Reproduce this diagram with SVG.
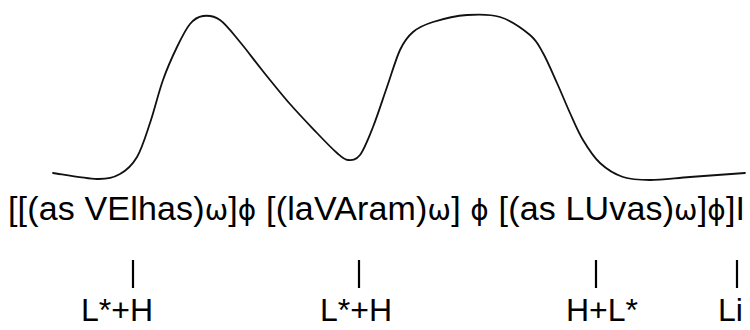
<svg xmlns="http://www.w3.org/2000/svg" width="750" height="330" viewBox="0 0 750 330">
<style>
.t{font-family:"Liberation Sans",Arial,sans-serif;fill:#000}
.main{font-size:34px}
.g{font-family:"DejaVu Sans","Liberation Sans",sans-serif;font-size:28px}
.lab{font-size:32px}
.bar{stroke:#000;stroke-width:2.2;fill:none}
.curve{stroke:#111;stroke-width:1.8;fill:none;stroke-linecap:round;stroke-linejoin:round}
</style>
<rect width="750" height="330" fill="#fff"/>
<g id="contour">
<path class="curve" d="M53,173 C60.3,174 85.8,178.8 97,179 C108.2,179.2 113.3,177.7 120,174 C126.7,170.3 132,165.5 137,157 C142,148.5 145.7,135.8 150,123 C154.3,110.2 158.5,92.7 163,80 C167.5,67.3 172.5,56.3 177,47 C181.5,37.7 185.7,29.2 190,24 C194.3,18.8 198,16.7 203,16 C208,15.3 213.8,15.7 220,20 C226.2,24.3 233,33.7 240,42 C247,50.3 253.7,59.7 262,70 C270.3,80.3 280.8,93.5 290,104 C299.2,114.5 309.2,124.8 317,133 C324.8,141.2 331.8,148.5 337,153 C342.2,157.5 344.2,159.7 348,160 C351.8,160.3 355.8,160.5 360,155 C364.2,149.5 368.5,138.3 373,127 C377.5,115.7 382.5,99.8 387,87 C391.5,74.2 395.7,59.2 400,50 C404.3,40.8 407.5,36.7 413,32 C418.5,27.3 424,24.8 433,22 C442,19.2 455.8,15.8 467,15 C478.2,14.2 489.5,13.7 500,17 C510.5,20.3 522.8,29 530,35 C537.2,41 538.5,45 543,53 C547.5,61 552.5,73 557,83 C561.5,93 565.7,103.5 570,113 C574.3,122.5 578,131.7 583,140 C588,148.3 593.3,156.8 600,163 C606.7,169.2 614.7,174.2 623,177 C631.3,179.8 638.8,180 650,180 C661.2,180 674.2,178.2 690,177 C705.8,175.8 735.8,173.7 745,173"/>
</g>
<g id="phrasing">
<text class="t main" x="8" y="220" textLength="737" lengthAdjust="spacing">[[(as VElhas)<tspan class="g">ω</tspan>]<tspan class="g">ϕ</tspan> [(laVAram)<tspan class="g">ω</tspan>] <tspan class="g">ϕ</tspan> [(as LUvas)<tspan class="g">ω</tspan>]<tspan class="g">ϕ</tspan>]I</text>
</g>
<g id="connectors">
<line class="bar" x1="133" y1="260" x2="133" y2="288"/>
<line class="bar" x1="359" y1="260" x2="359" y2="288"/>
<line class="bar" x1="596" y1="260" x2="596" y2="288"/>
<line class="bar" x1="737" y1="260" x2="737" y2="288"/>
</g>
<g id="tone1"><text class="t lab" x="81" y="321">L*+H</text></g>
<g id="tone2"><text class="t lab" x="320" y="321">L*+H</text></g>
<g id="tone3"><text class="t lab" x="566" y="321">H+L*</text></g>
<g id="tone4"><text class="t lab" x="718" y="321">Li</text></g>
</svg>
